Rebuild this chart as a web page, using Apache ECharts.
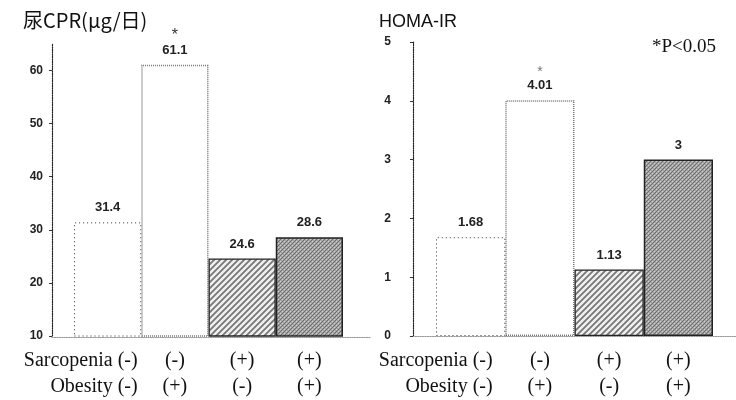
<!DOCTYPE html>
<html>
<head>
<meta charset="utf-8">
<script src="https://cdn.jsdelivr.net/npm/echarts@6/dist/echarts.min.js"></script>
<style>
  html, body { margin: 0; padding: 0; background: #fff; }
  #main { width: 736px; height: 400px; }
</style>
</head>
<body>
<div id="main"></div>
<script>
// groups (Sarcopenia / Obesity)
var groups = ['Sarcopenia (-)\nObesity (-)', '(-)\n(+)', '(+)\n(-)', '(+)\n(+)'];
var cprValues = [31.4, 61.1, 24.6, 28.6];
var homaValues = [1.68, 4.01, 1.13, 3];
var cprSig = [false, true, false, false];
var homaSig = [false, true, false, false];

// fill patterns
function makeHatch() {
    var c = document.createElement('canvas');
    c.width = 6; c.height = 6;
    var ctx = c.getContext('2d');
    ctx.fillStyle = '#f0f0f0';
    ctx.fillRect(0, 0, 6, 6);
    ctx.strokeStyle = '#777';
    ctx.lineWidth = 1.8;
    ctx.beginPath();
    ctx.moveTo(-1, 7); ctx.lineTo(7, -1);
    ctx.moveTo(-4, 4); ctx.lineTo(4, -4);
    ctx.moveTo(2, 10); ctx.lineTo(10, 2);
    ctx.stroke();
    return c;
}
function makeSpeckle() {
    var c = document.createElement('canvas');
    c.width = 4; c.height = 4;
    var ctx = c.getContext('2d');
    ctx.fillStyle = '#a4a4a4';
    ctx.fillRect(0, 0, 4, 4);
    ctx.fillStyle = '#6e6e6e';
    ctx.fillRect(0, 3, 1, 1); ctx.fillRect(1, 2, 1, 1);
    ctx.fillRect(2, 1, 1, 1); ctx.fillRect(3, 0, 1, 1);
    ctx.fillStyle = '#d0d0d0';
    ctx.fillRect(0, 1, 1, 1); ctx.fillRect(2, 3, 1, 1);
    return c;
}
var hatchImg = makeHatch();
var speckImg = makeSpeckle();

var barStyles = [
    { color: 'rgba(255,255,255,0)', borderColor: '#333', borderWidth: 1, borderType: [1, 3] },
    { color: '#fff', borderColor: '#777', borderWidth: 1.5, borderType: [1, 1] },
    { color: { image: hatchImg, repeat: 'repeat' }, borderColor: '#222', borderWidth: 1.3 },
    { color: { image: speckImg, repeat: 'repeat' }, borderColor: '#222', borderWidth: 1.5 }
];

function buildData(vals) {
    return vals.map(function (v, i) {
        return { value: v, itemStyle: barStyles[i] };
    });
}
function catData(shift) {
    return groups.map(function (g, i) {
        if (i === 0) {
            return { value: g, textStyle: { align: 'right', padding: [0, -shift, 0, 0] } };
        }
        return g;
    });
}

var serif = '"Liberation Serif", "Times New Roman", serif';
var sans = '"Liberation Sans", Arial, sans-serif';

function xCat(gi, shift) {
    return {
        type: 'category', gridIndex: gi, data: catData(shift),
        axisLine: { show: false }, axisTick: { show: false },
        axisLabel: {
            margin: 12, fontFamily: serif, fontSize: 20, lineHeight: 26,
            color: '#111', interval: 0
        }
    };
}
function yVal(gi, min, max, step, off, margin) {
    return {
        type: 'value', gridIndex: gi, min: min, max: max, interval: step, offset: off,
        splitLine: { show: false },
        axisLine: { show: true, lineStyle: { color: '#222', type: 'dotted', width: 1.2 } },
        axisTick: { show: true, length: 3, lineStyle: { color: '#333' } },
        axisLabel: {
            showMaxLabel: step * Math.round(max / step) === max,
            margin: margin, fontFamily: sans, fontSize: 12, fontWeight: 'bold', color: '#222'
        }
    };
}
function baseX(gi) {
    return {
        type: 'value', gridIndex: gi, min: 0, max: 1,
        axisLine: { show: true, lineStyle: { color: '#999', type: 'dotted', width: 1.2 } },
        axisTick: { show: false }, axisLabel: { show: false }, splitLine: { show: false }
    };
}
function hideY(gi) {
    return { type: 'value', gridIndex: gi, show: false, splitLine: { show: false } };
}
function labelFmt(sig) {
    return function (p) {
        var txt = String(p.value);
        return sig[p.dataIndex] ? '{s|*}\n' + txt : txt;
    };
}

var chart = echarts.init(document.getElementById('main'));
var option = {
    backgroundColor: '#fff',
    animation: false,
    title: [
        { text: '尿CPR(μg/日)', left: 18, top: 5,
          textStyle: { fontFamily: '"Noto Sans CJK JP"', fontSize: 20, fontWeight: 'normal', color: '#111' } },
        { text: 'HOMA-IR', left: 374, top: 8,
          textStyle: { fontFamily: sans, fontSize: 18, fontWeight: 'normal', color: '#111' } },
        { text: '*P<0.05', left: 647, top: 33,
          textStyle: { fontFamily: serif, fontSize: 19, fontWeight: 'normal', color: '#111' } }
    ],
    grid: [
        { left: 74, right: 393, top: 44, bottom: 63 },
        { left: 436, right: 23, top: 42, bottom: 64 },
        { left: 52, right: 366, top: 44, bottom: 63 },
        { left: 413, right: 0, top: 42, bottom: 64 }
    ],
    xAxis: [xCat(0, 30), xCat(1, 22), baseX(2), baseX(3)],
    yAxis: [yVal(0, 10, 65, 10, 22, 9), yVal(1, 0, 5, 1, 23, 22), hideY(2), hideY(3)],
    series: [
        {
            type: 'bar', xAxisIndex: 0, yAxisIndex: 0, barCategoryGap: 0,
            data: buildData(cprValues),
            label: {
                show: true, position: 'top', distance: 7, formatter: labelFmt(cprSig),
                fontFamily: sans, fontSize: 13, fontWeight: 'bold', color: '#222', lineHeight: 15,
                rich: { s: { fontSize: 16, fontWeight: 'normal', color: '#333', lineHeight: 14 } }
            }
        },
        {
            type: 'bar', xAxisIndex: 1, yAxisIndex: 1, barCategoryGap: 0,
            data: buildData(homaValues),
            label: {
                show: true, position: 'top', distance: 7, formatter: labelFmt(homaSig),
                fontFamily: sans, fontSize: 13, fontWeight: 'bold', color: '#222', lineHeight: 15,
                rich: { s: { fontSize: 14, fontWeight: 'normal', color: '#777', lineHeight: 12 } }
            }
        }
    ]
};
chart.setOption(option);
</script>
</body>
</html>
